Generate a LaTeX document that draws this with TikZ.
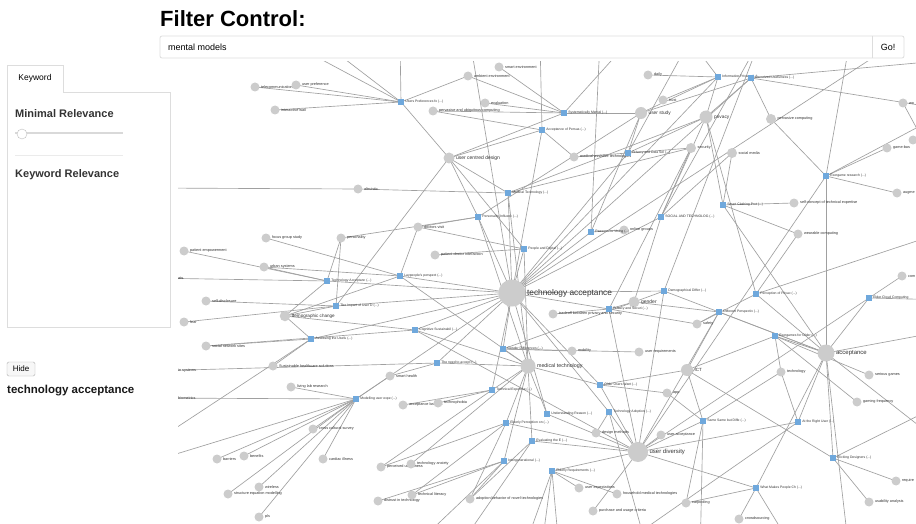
\documentclass[tikz,border=0pt]{standalone}
\usepackage{fontspec}
\setmainfont{Liberation Sans}
\definecolor{kwgrey}{HTML}{CCCCCC}
\definecolor{ppblue}{HTML}{6FA8DC}
\definecolor{edgegrey}{HTML}{A0A0A0}
\definecolor{uiline}{HTML}{DDDDDD}
\definecolor{txt}{HTML}{333333}
\pgfdeclarelayer{bg}
\pgfsetlayers{bg,main}
\newcommand{\fs}[1]{\fontsize{#1}{#1}\selectfont}
% keyword node: [diameter]{name}{x,y}{label}
\newcommand{\kwn}[4][9]{\node[kw,minimum size=#1pt] (#2) at (#3) {};\node[kl] at ([xshift=1.2pt]#2.east) {#4};}
% hub node: {diameter}{name}{x,y}{fontsize}{label}
\newcommand{\hubn}[5]{\node[kw,minimum size=#1pt] (#2) at (#3) {};\node[kl,font=\fs{#4}] at ([xshift=1.2pt]#2.east) {#5};}
% paper node: {name}{x,y}{label}
\newcommand{\ppn}[3]{\node[pp] (#1) at (#2) {};\node[pl] at ([xshift=1.2pt]#1.east) {#3};}
\begin{document}
\begin{tikzpicture}[x=1pt,y=-1pt,
  kw/.style={circle,fill=kwgrey,inner sep=0pt},
  pp/.style={rectangle,fill=ppblue,inner sep=0pt,minimum size=5.5pt},
  kl/.style={anchor=west,inner sep=0pt,text=txt,font=\fs{3.8}},
  pl/.style={anchor=west,inner sep=0pt,text=txt,font=\fs{3.4}},
  ed/.style={draw=edgegrey,line width=0.65pt},
  ui/.style={draw=uiline,line width=0.8pt}]
\useasboundingbox (0,0) rectangle (916,524);

% ---------- UI ----------
\node[anchor=base west,inner sep=0pt,font=\fs{22}\bfseries] (title) at (160,27) {Filter Control:};
\draw[ui,rounded corners=2pt] (160,36) rectangle (904,58);
\draw[ui] (872,36) -- (872,58);
\node[anchor=west,inner sep=0pt,font=\fs{9}] (query) at (168,47) {mental models};
\node[inner sep=0pt,font=\fs{9}] (go) at (888,47) {Go!};
\draw[ui] (7,327) -- (7,65) -- (63,65) -- (63,92) -- (170,92) -- (170,327) -- cycle;
\node[inner sep=0pt,font=\fs{8.5}] (tab) at (35,78) {Keyword};
\node[anchor=west,inner sep=0pt,font=\fs{11}\bfseries,text=txt] (minrel) at (15,114) {Minimal Relevance};
\draw[line width=1.6pt,draw=black!15] (15,133) -- (123,133);
\node[circle,draw=black!25,fill=white,minimum size=10pt,inner sep=0pt] (knob) at (22,134) {};
\draw[draw=black!8,line width=0.8pt] (15,155) -- (123,155);
\node[anchor=west,inner sep=0pt,font=\fs{11}\bfseries,text=txt] (kwrel) at (15,175) {Keyword Relevance};
\draw[draw=black!30,fill=black!3,rounded corners=1.5pt] (7,362) rectangle (35,376);
\node[inner sep=0pt,font=\fs{8}] (hide) at (21,369) {Hide};
\node[anchor=west,inner sep=0pt,font=\fs{11.5}\bfseries,text=black!90] (selkw) at (7,391) {technology acceptance};

% ---------- graph nodes ----------
\begin{scope}
\clip (178,62) rectangle (916,524);
% off-screen anchors
\foreach \n/\p in {T1/{285,40},T2/{320,40},Tv/{400,40},T3/{540,40},T4/{600,40},T5/{630,40},T6/{690,40},T7/{760,40},T8/{850,40},T9/{900,40},T10/{470,40},
  L1/{150,188},L2/{150,278},L3/{150,371},L4/{150,398},L5/{150,445},L6/{150,462},
  R1/{950,60},R2/{950,110},R3/{950,190},R4/{950,230},R5/{950,330},R6/{950,400},R7/{950,450},R8/{950,300},
  B1/{400,560},B2/{450,560},B3/{520,560},B4/{560,560},B5/{600,560},B6/{650,560},B7/{700,560},B8/{800,560},B9/{850,560},B10/{540,560}}
  \coordinate (\n) at (\p);
\node[kl] (atsl) at (178,278) {ats};
\node[kl] (insysl) at (178,371) {in systems};
\node[kl] (biol) at (178,398) {biometrics};

\kwn{tele}{255,87}{telecommunication}
\kwn{upref}{296,85}{user preference}
\kwn{iwall}{275,110}{interactive wall}
\kwn{altr}{358,189}{altruistic}
\kwn{smenv}{499,67}{smart environment}
\kwn{amb}{468,76}{ambient environment}
\kwn{evalk}{485,103}{evaluation}
\kwn{pervu}{433,111}{pervasive and ubiquitous computing}
\hubn{12}{us}{641,113}{4.8}{user study}
\kwn{trust}{663,100}{trust}
\kwn{daily}{648,75}{daily}
\hubn{11}{ucd}{449,158}{5}{user centred design}
\kwn{medass}{574,157}{medical assistive technologies}
\hubn{13}{priv}{706,117}{4.8}{privacy}
\kwn[10]{pcomp}{771,119}{pervasive computing}
\kwn[10]{sec}{691,148}{security}
\kwn[10]{smed}{732,153}{social media}
\kwn{wo}{903,103}{wo}
\kwn{gamesk}{913,140}{}
\kwn{gameb}{887,148}{game-bas}
\kwn{augm}{897,193}{augme}
\kwn{selfc}{794,203}{self-concept of technical expertise}
\kwn{focus}{266,238}{focus group study}
\kwn{pers}{341,238}{personality}
\kwn{docv}{418,227}{doctors visit}
\kwn{patemp}{184,251}{patient empowerment}
\kwn{urban}{264,267}{urban systems}
\kwn{selfd}{206,301}{self-disclosure}
\kwn{fear}{184,322}{fear}
\hubn{10.5}{dc}{285,316}{4.6}{demographic change}
\kwn{sns}{206,346}{social network sites}
\kwn{shc}{273,366}{Sustainable healthcare solutions}
\kwn{online}{624,230}{online groups}
\kwn{pdi}{435,255}{patient doctor interaction}
\hubn{27}{ta}{512,293}{8.3}{technology acceptance}
\hubn{11}{gender}{634,302}{5}{gender}
\kwn{trade}{553,314}{tradeoff between privacy and security}
\kwn{mob}{572,351}{mobility}
\kwn{ureq}{639,352}{user requirements}
\hubn{15}{mt}{528,366}{5.3}{medical technology}
\kwn{wear}{798,234}{wearable computing}
\kwn{com}{902,276}{com}
\kwn{safety}{697,324}{safety}
\hubn{17}{acc}{826,353}{6}{acceptance}
\hubn{12}{ict}{687,370}{4.5}{ICT}
\kwn{lll}{291,387}{living lab research}
\kwn{shealth}{390,376}{smart health}
\kwn{accb}{403,405}{acceptance barriers}
\kwn{techph}{438,403}{technophobia}
\kwn{ccs}{313,429}{cross cultural survey}
\kwn{barr}{217,459}{barriers}
\kwn{bene}{244,456}{benefits}
\kwn{card}{323,459}{cardiac illness}
\kwn{perc}{381,467}{perceived usefulness}
\kwn{techanx}{411,464}{technology anxiety}
\kwn{wire}{259,487}{wireless}
\kwn{sem}{228,494}{structure equation modelling}
\kwn{distr}{378,501}{distrust in technology}
\kwn{techlit}{412,495}{technical literacy}
\kwn{pls}{259,517}{pls}
\kwn{app}{667,393}{app}
\kwn{desm}{596,433}{design methods}
\kwn{uacc}{661,435}{user acceptance}
\hubn{20}{ud}{638,452}{6}{user diversity}
\kwn{uexp}{579,488}{user expectations}
\kwn{hhmt}{617,494}{household medical technologies}
\kwn{adopt}{470,499}{adoption behavior of novel technologies}
\kwn{purch}{593,511}{purchase and usage criteria}
\kwn{techn}{781,372}{technology}
\kwn{serg}{869,375}{serious games}
\kwn{gfreq}{857,402}{gaming frequency}
\kwn{requ}{896,481}{require}
\kwn{usab}{869,502}{usability analysis}
\kwn{carp}{686,503}{carpooling}
\kwn{crowd}{739,519}{crowdsourcing}

\ppn{pupf}{401,102}{Users Preferences fo (...)}
\ppn{psys}{564,113}{Systematically Mental (...)}
\ppn{paccp}{542,130}{Acceptance of Persua (...)}
\ppn{ppds}{628,153}{Privacy and Data Sel (...)}
\ppn{pmedt}{508,193}{Medical Technology (...)}
\ppn{ppers}{478,217}{Personality Influenc (...)}
\ppn{psoc}{661,217}{SOCIAL AND TECHNOLOG (...)}
\ppn{psmart}{723,205}{Smart Clothing Prot (...)}
\ppn{pexer}{826,176}{Exergame research (...)}
\ppn{pinfo}{718,77}{Information Privacy (...)}
\ppn{ppu}{751,78}{Perceived Usefulness (...)}
\ppn{preas}{591,232}{Reasons for Using (...)}
\ppn{ppeople}{524,249}{People and Digital (...)}
\ppn{play}{400,276}{Laypeople's perspect (...)}
\ppn{ptac}{327,281}{Technology Acceptanc (...)}
\ppn{pimp}{336,306}{The Impact of User D (...)}
\ppn{pcog}{415,330}{Cognitive Sustainabil (...)}
\ppn{passess}{311,339}{Assessing the Usefu (...)}
\ppn{ppriv2}{609,309}{Privacy and Securi (...)}
\ppn{pdemo}{664,291}{Demographical Differ (...)}
\ppn{ppercp}{756,294}{Perception of Privac (...)}
\ppn{pelder}{869,298}{Elder Cloud Computing}
\ppn{pdiff}{719,312}{Different Perspectiv (...)}
\ppn{pexel}{775,336}{Exergames for Older (...)}
\ppn{pgend}{503,349}{Gender Differences (...)}
\ppn{pneed}{437,363}{The need to accept (...)}
\ppn{pmodel}{356,399}{Modelling user expe (...)}
\ppn{ptech}{492,390}{Technical Expertise (...)}
\ppn{polder}{600,385}{Older Users Want (...)}
\ppn{pund}{547,414}{Understanding Reason (...)}
\ppn{ptadop}{609,412}{Technology Adoption (...)}
\ppn{pelp}{506,423}{Elderly Perception on (...)}
\ppn{peval}{532,441}{Evaluating the E (...)}
\ppn{pinter}{504,461}{Intergenerational (...)}
\ppn{pereq}{552,471}{Elderly Requirements (...)}
\ppn{psame}{703,421}{Same Same but Diffe (...)}
\ppn{pright}{798,422}{At the Right User (...)}
\ppn{pelic}{833,458}{Eliciting Designers (...)}
\ppn{pwhat}{756,488}{What Makes People Ch (...)}
\end{scope}

% ---------- edges ----------
\begin{pgfonlayer}{bg}
\fill[white] (0,0) rectangle (916,524);
\begin{scope}
\clip (178,62) rectangle (916,524);
\foreach \a/\b in {
 pupf/tele,pupf/upref,pupf/iwall,pupf/T1,pupf/T2,pupf/Tv,pupf/amb,pupf/ucd,
 psys/evalk,psys/pervu,psys/us,psys/amb,psys/ucd,psys/T5,psys/smenv,
 paccp/pervu,paccp/ucd,paccp/ta,paccp/T3,paccp/medass,
 ppds/medass,ppds/priv,ppds/sec,ppds/ta,ppds/T6,ppds/us,
 pmedt/altr,pmedt/mt,pmedt/ta,pmedt/ucd,pmedt/priv,pmedt/sec,altr/L1,
 ppers/docv,ppers/pers,ppers/ucd,ppers/ta,ppers/mt,ppers/us,
 psoc/priv,psoc/sec,psoc/smed,psoc/ta,psoc/gender,psoc/T7,
 psmart/smed,psmart/selfc,psmart/priv,psmart/acc,psmart/wear,
 pexer/gameb,pexer/augm,pexer/pcomp,pexer/acc,pexer/T8,pexer/R2,pexer/ud,
 pinfo/us,pinfo/priv,pinfo/trust,pinfo/daily,pinfo/T6,pinfo/ta,
 ppu/pcomp,ppu/priv,ppu/us,ppu/ta,ppu/R1,ppu/R2,
 preas/online,preas/ta,preas/us,preas/T4,
 ppeople/pdi,ppeople/ta,ppeople/ucd,ppeople/docv,ppeople/mt,
 play/docv,play/focus,play/ta,play/dc,play/urban,play/mt,
 ptac/urban,ptac/patemp,ptac/L2,ptac/dc,ptac/ta,ptac/pers,
 pimp/selfd,pimp/fear,pimp/dc,pimp/pers,pimp/ta,pimp/ucd,
 pcog/dc,pcog/ta,pcog/mt,pcog/ud,pcog/sns,
 passess/sns,passess/shc,passess/dc,passess/ta,passess/L5,
 ppriv2/trade,ppriv2/gender,ppriv2/ta,ppriv2/safety,ppriv2/sec,ppriv2/ud,
 pdemo/gender,pdemo/ta,pdemo/acc,pdemo/ud,pdemo/T7,
 ppercp/acc,ppercp/wear,ppercp/safety,ppercp/priv,ppercp/R4,
 pelder/acc,pelder/com,pelder/R8,pelder/ud,
 pdiff/safety,pdiff/ict,pdiff/acc,pdiff/ud,pdiff/gender,
 pexel/acc,pexel/techn,pexel/serg,pexel/ict,pexel/gfreq,
 pgend/ta,pgend/mt,pgend/mob,pgend/ureq,pgend/gender,
 pneed/ta,pneed/mt,pneed/shealth,pneed/L3,
 pmodel/barr,pmodel/bene,pmodel/ccs,pmodel/sem,pmodel/pls,pmodel/wire,pmodel/shealth,pmodel/ta,pmodel/L4,pmodel/L6,pmodel/card,pmodel/lll,
 ptech/mt,ptech/accb,ptech/techph,ptech/ta,ptech/perc,
 polder/mt,polder/ud,polder/ict,polder/app,polder/ta,
 pund/mt,pund/ud,pund/ta,
 ptadop/ud,ptadop/desm,ptadop/ta,ptadop/B6,
 pelp/ud,pelp/adopt,pelp/perc,pelp/mt,pelp/techlit,
 peval/ud,peval/mt,peval/adopt,peval/B2,
 pinter/adopt,pinter/techlit,pinter/mt,pinter/distr,pinter/B1,
 pereq/ud,pereq/uexp,pereq/hhmt,pereq/B3,pereq/B4,pereq/B10,
 psame/ict,psame/app,psame/ud,psame/techn,psame/carp,psame/B7,
 pright/acc,pright/ud,pright/techn,pright/B5,
 pelic/acc,pelic/requ,pelic/usab,pelic/ict,pelic/R6,
 pwhat/ud,pwhat/carp,pwhat/crowd,pwhat/acc,pwhat/B8,
 acc/R5,acc/R7,acc/B9,ud/purch,ud/uacc,ta/T10,ta/T9,mt/techanx,wo/R3}
 \draw[ed] (\a.center) -- (\b.center);
\end{scope}
\end{pgfonlayer}
\end{tikzpicture}
\end{document}
